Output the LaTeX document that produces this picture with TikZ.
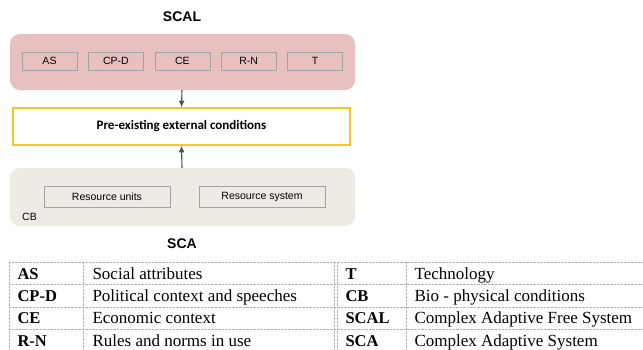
\documentclass[tikz,border=0pt]{standalone}
\usepackage{fontspec}
\setmainfont{Liberation Serif}
\setsansfont{Liberation Sans}
\newfontfamily\calibrifont{Carlito}
\usepackage{tikz}
\usetikzlibrary{positioning,arrows.meta}
\definecolor{scalpink}{HTML}{E7C0BF}
\definecolor{cbbeige}{HTML}{EEEBE4}
\definecolor{pecyellow}{HTML}{F8C52A}
\definecolor{boxgray}{HTML}{A3A3A3}
\definecolor{arrowgray}{HTML}{505050}

\begin{document}
\begin{tikzpicture}[
    x=1pt, y=-1pt,
    node distance=11pt,
    title/.style={font=\sffamily\bfseries\fontsize{14}{16}\selectfont},
    group/.style={rounded corners=10pt},
    item/.style={draw=boxgray,minimum width=55pt,minimum height=18pt,inner sep=0pt,font=\sffamily\fontsize{10.5}{12}\selectfont},
    resource/.style={item,minimum width=126pt,minimum height=21pt},
    flow/.style={draw=arrowgray,line width=1.1pt,-{Latex[length=6.5pt,width=6pt]}},
    abbr/.style={anchor=base west,font=\bfseries\fontsize{16.5}{18}\selectfont},
    descr/.style={anchor=base west,font=\fontsize{17}{18}\selectfont},
    rule/.style={draw=gray!60,line width=0.4pt,densely dotted}
    ]
    \useasboundingbox (0,0) rectangle (643,349);

    % upper block
    \node[title] (scal) at (182,17) {SCAL};
    \fill[scalpink,group] (10,34) rectangle (355,90);
    \coordinate (scalbot) at (182,90);
    \node[item] (as) at (49.5,61) {AS};
    \node[item, right=of as] (cpd) {CP-D};
    \node[item, right=of cpd] (ce) {CE};
    \node[item, right=of ce] (rn) {R-N};
    \node[item, right=of rn] (t) {T};

    % middle block
    \node[draw=pecyellow,line width=1.6pt,minimum width=337pt,minimum height=37pt,inner sep=0pt,
      font=\calibrifont\bfseries\fontsize{13}{15}\selectfont] (pec) at (181.5,126.5) {Pre-existing external conditions};

    % lower block
    \fill[cbbeige,group] (10,168) rectangle (355,226);
    \coordinate (cbtop) at (182,168);
    \node[resource] (ru) at (107,196.5) {Resource units};
    \node[resource] (rs) at (262,196.5) {Resource system};
    \node[font=\sffamily\fontsize{10.5}{12}\selectfont] (cb) at (29.5,216.5) {CB};
    \node[title] (sca) at (182,244) {SCA};

    \path (scalbot) edge[flow] (pec.north)
    (cbtop) edge[flow] (pec.south)
    ;

    % legend
    \foreach \y in {262,284,307,329}
      \draw[rule] (9,\y) -- (643,\y);
    \foreach \x in {9,83,334,337,406}
      \draw[rule] (\x,262) -- (\x,349);
    \foreach \a/\d/\b/\e [count=\i] in {AS/Social attributes/T/Technology,
        CP-D/Political context and speeches/CB/Bio - physical conditions,
        CE/Economic context/SCAL/Complex Adaptive Free System,
        R-N/Rules and norms in use/SCA/Complex Adaptive System}
    {
      \node[abbr] (la\i) at (14,257+22.3*\i) {\a};
      \node[descr] (ld\i) at (89,257+22.3*\i) {\d};
      \node[abbr] (ra\i) at (342,257+22.3*\i) {\b};
      \node[descr] (rd\i) at (411,257+22.3*\i) {\e};
    }
  \end{tikzpicture}
\end{document}
